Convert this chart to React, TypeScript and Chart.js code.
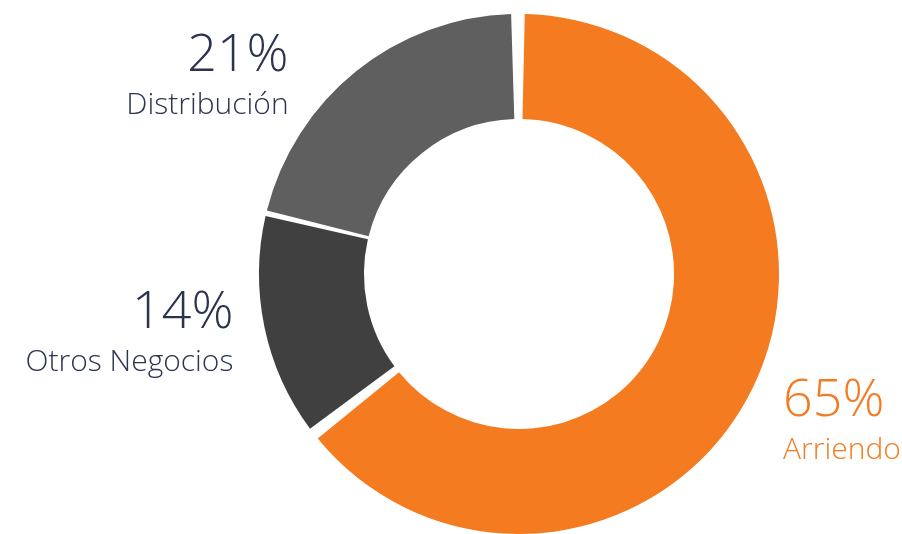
import React, { useEffect, useRef } from "react";
import { Chart, registerables } from "chart.js";

Chart.register(...registerables);

const categories = ["Arriendo", "Otros Negocios", "Distribución"];
const shares = [65, 14, 21];
const sliceColors = ["#F47B20", "#404040", "#5F5F5F"];
const labelColors = ["#F47B20", "#2B3350", "#2B3350"];

const labelPlugin = {
  id: "sliceLabels",
  afterDatasetsDraw(chart: any, _args: any, opts: any) {
    const ctx = chart.ctx;
    const meta = chart.getDatasetMeta(0);
    const ds = chart.data.datasets[0];
    meta.data.forEach((arc: any, i: number) => {
      const p = arc.getProps(["x", "y", "startAngle", "endAngle", "outerRadius"], true);
      const mid = (p.startAngle + p.endAngle) / 2;
      const ax = p.x + Math.cos(mid) * p.outerRadius;
      const ay = p.y + Math.sin(mid) * p.outerRadius;
      const off = opts.offsets[i];
      const x = ax + off[0];
      const y = ay + off[1];
      const right = Math.cos(mid) >= 0;
      ctx.save();
      ctx.textAlign = right ? "left" : "right";
      ctx.textBaseline = "alphabetic";
      ctx.fillStyle = labelColors[i];
      ctx.font = `300 52px ${opts.family}`;
      ctx.fillText(`${ds.data[i]}%`, x, y);
      ctx.font = `300 30px ${opts.family}`;
      ctx.fillText(chart.data.labels[i], x, y + 43);
      ctx.restore();
    });
  },
};

export default function App() {
  const ref = useRef<HTMLCanvasElement>(null);
  useEffect(() => {
    document.body.style.margin = "0";
    const chart = new Chart(ref.current!, {
      type: "doughnut",
      data: {
        labels: categories,
        datasets: [
          {
            data: shares,
            backgroundColor: sliceColors,
            borderWidth: 0,
            spacing: 8,
          },
        ],
      },
      options: {
        responsive: false,
        animation: false,
        rotation: -1,
        cutout: "59%",
        layout: { padding: { left: 256, right: 120, top: 14, bottom: -4 } },
        plugins: {
          legend: { display: false },
          tooltip: { enabled: false },
          sliceLabels: {
            family: "'Open Sans', sans-serif",
            offsets: [
              [34, 30],
              [-35, 2],
              [-70, -3],
            ],
          },
        } as any,
      },
      plugins: [labelPlugin],
    });
    return () => chart.destroy();
  }, []);
  return (
    <div style={{ width: 902, height: 534, overflow: "hidden", background: "#fff" }}>
      <canvas ref={ref} width={902} height={534} style={{ display: "block" }} />
    </div>
  );
}
